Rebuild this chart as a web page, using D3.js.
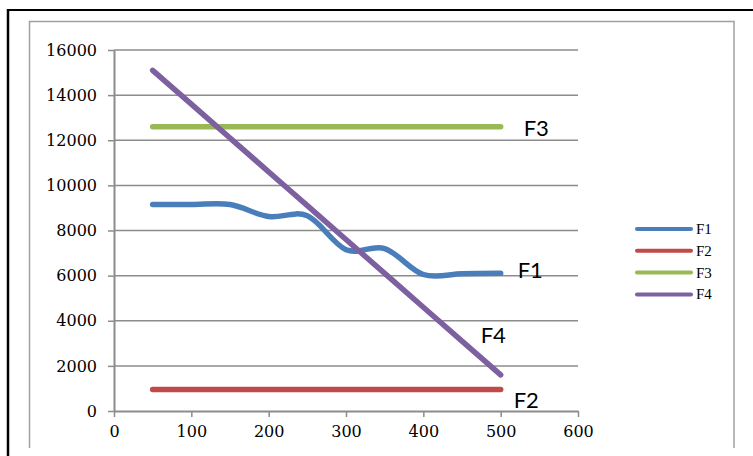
<!DOCTYPE html>
<html>
<head>
<meta charset="utf-8">
<script src="https://cdn.jsdelivr.net/npm/d3@7"></script>
<style>
  body { margin: 0; background: #fff; }
  svg { display: block; }
</style>
</head>
<body>
<script>
// Data
var xValues = [50, 100, 150, 200, 250, 300, 350, 400, 450, 500];
var f1 = [9150, 9150, 9150, 8620, 8650, 7150, 7200, 6050, 6080, 6100];
var f2 = [950, 950, 950, 950, 950, 950, 950, 950, 950, 950];
var f3 = [12600, 12600, 12600, 12600, 12600, 12600, 12600, 12600, 12600, 12600];
var f4 = [15100, 13600, 12100, 10600, 9100, 7600, 6100, 4600, 3100, 1600];
var seriesNames = ["F1", "F2", "F3", "F4"];
var xTicks = [0, 100, 200, 300, 400, 500, 600];
var yTicks = [0, 2000, 4000, 6000, 8000, 10000, 12000, 14000, 16000];

var colors = ["#4a7ebb", "#be4b48", "#98b954", "#7d60a0"];
var allSeries = [f1, f2, f3, f4];

var svg = d3.select("body")
    .append("svg")
    .attr("width", 753)
    .attr("height", 456);

// outer black frame (top and left only visible)
svg.append("line")
    .attr("x1", 8).attr("x2", 753).attr("y1", 10).attr("y2", 10)
    .attr("stroke", "#000").attr("stroke-width", 2);
svg.append("line")
    .attr("x1", 8).attr("x2", 8).attr("y1", 9).attr("y2", 456)
    .attr("stroke", "#000").attr("stroke-width", 2.5);

// inner grey frame
svg.append("path")
    .attr("d", "M29.5,448 V21.5 H734 V448")
    .attr("fill", "none")
    .attr("stroke", "#a0a0a0")
    .attr("stroke-width", 1.5);

var xScale = d3.scaleLinear().domain([0, 600]).range([114, 578]);
var yScale = d3.scaleLinear().domain([0, 16000]).range([411, 50]);

// gridlines
svg.selectAll(".grid")
    .data(yTicks.filter(d => d > 0))
    .enter()
    .append("line")
    .attr("x1", xScale(0))
    .attr("x2", xScale(600))
    .attr("y1", d => yScale(d))
    .attr("y2", d => yScale(d))
    .attr("stroke", "#8c8c8c")
    .attr("stroke-width", 1.5);

// y axis
var yAxis = d3.axisLeft(yScale)
    .tickValues(yTicks)
    .tickFormat(d3.format("d"))
    .tickSizeInner(6)
    .tickSizeOuter(0)
    .tickPadding(11);

var gy = svg.append("g")
    .attr("transform", `translate(${xScale(0)},0)`)
    .call(yAxis);

// x axis
var xAxis = d3.axisBottom(xScale)
    .tickValues(xTicks)
    .tickFormat(d3.format("d"))
    .tickSizeInner(6)
    .tickSizeOuter(0)
    .tickPadding(8);

var gx = svg.append("g")
    .attr("transform", `translate(0,${yScale(0)})`)
    .call(xAxis);

[gx, gy].forEach(function(g) {
    g.select(".domain").attr("stroke", "#8c8c8c").attr("stroke-width", 2);
    g.selectAll(".tick line").attr("stroke", "#8c8c8c").attr("stroke-width", 1.5);
    g.selectAll("text")
        .attr("fill", "#000")
        .style("font-family", "'DejaVu Serif', serif")
        .style("font-size", "16px");
});
gx.selectAll("text").attr("dy", "0.75em");

// lines
var line = d3.line()
    .x((d, i) => xScale(xValues[i]))
    .y(d => yScale(d))
    .curve(d3.curveCatmullRom.alpha(0));

var order = [1, 2, 0, 3];
order.forEach(function(k) {
    svg.append("path")
        .datum(allSeries[k])
        .attr("d", line)
        .attr("fill", "none")
        .attr("stroke", colors[k])
        .attr("stroke-width", 5.5)
        .attr("stroke-linecap", "round")
        .attr("stroke-linejoin", "round");
});

// end labels
var labelPos = [
    {name: "F1", dx: 17, y: 278},
    {name: "F2", dx: 13, y: 408},
    {name: "F3", dx: 23, y: 136},
    {name: "F4", dx: -20, y: 343}
];
svg.selectAll(".endlabel")
    .data(labelPos)
    .enter()
    .append("text")
    .attr("x", d => xScale(500) + d.dx)
    .attr("y", d => d.y)
    .style("font-family", "Lato, 'Open Sans', sans-serif")
    .style("font-size", "22px")
    .attr("fill", "#000")
    .text(d => d.name);

// legend
var legend = svg.selectAll(".legend")
    .data(seriesNames)
    .enter()
    .append("g")
    .attr("transform", (d, i) => `translate(637,${229 + i * 21.8})`);

legend.append("line")
    .attr("x1", 0).attr("x2", 54)
    .attr("y1", 0).attr("y2", 0)
    .attr("stroke", (d, i) => colors[i])
    .attr("stroke-width", 4)
    .attr("stroke-linecap", "round");

legend.append("text")
    .attr("x", 59)
    .attr("y", 5)
    .style("font-family", "'Liberation Serif', serif")
    .style("font-size", "15px")
    .attr("fill", "#000")
    .text(d => d);
</script>
</body>
</html>
